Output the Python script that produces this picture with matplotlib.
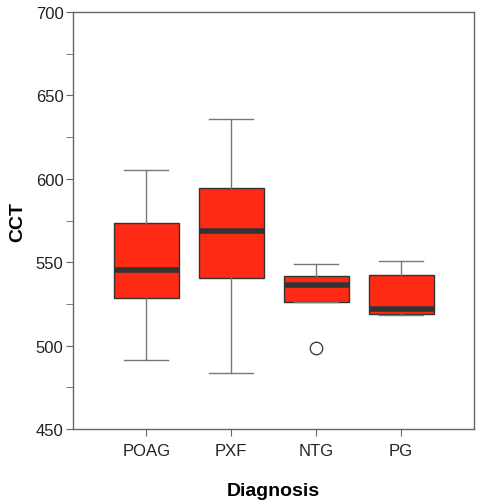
import matplotlib
matplotlib.use("Agg")
import matplotlib.pyplot as plt
from matplotlib.ticker import MultipleLocator

plt.rcParams['font.family'] = ['Liberation Sans', 'DejaVu Sans']

groups = ["POAG", "PXF", "NTG", "PG"]
whislo = [491.4, 483.6, 526.1, 518.6]
q1 = [528.5, 540.5, 526.1, 518.9]
med = [545.3, 568.7, 536.3, 522.0]
q3 = [573.5, 594.5, 541.7, 542.3]
whishi = [605.3, 635.9, 549.0, 550.7]
fliers = [[], [], [498.6], []]

stats = []
for i, g in enumerate(groups):
    stats.append(dict(label=g, whislo=whislo[i], q1=q1[i], med=med[i],
                      q3=q3[i], whishi=whishi[i], fliers=fliers[i]))

fig = plt.figure(figsize=(4.78, 5.02), dpi=100)
ax = fig.add_axes([0.153, 0.143, 0.839, 0.831])

ax.bxp(stats, positions=[1, 2, 3, 4], widths=0.765, patch_artist=True,
       boxprops=dict(facecolor="#ff2a14", edgecolor="#333333", linewidth=1),
       medianprops=dict(color="#333333", linewidth=4, solid_capstyle="butt"),
       whiskerprops=dict(color="#777777", linewidth=1),
       capprops=dict(color="#777777", linewidth=1),
       capwidths=0.52,
       flierprops=dict(marker="o", markersize=9, markerfacecolor="white",
                       markeredgecolor="#333333", markeredgewidth=0.9))

ax.set_xlim(0.14, 4.86)
ax.set_ylim(450, 700)
ax.yaxis.set_major_locator(MultipleLocator(50))
ax.yaxis.set_minor_locator(MultipleLocator(25))
ax.tick_params(axis="both", which="both", direction="out", color="#666666",
               length=5, labelsize=12, labelcolor="#222222")
ax.tick_params(axis="x", pad=5)
ax.tick_params(axis="y", pad=2)
for s in ax.spines.values():
    s.set_color("#666666")
    s.set_linewidth(1)

ax.set_ylabel("CCT", fontsize=14, fontweight="bold", labelpad=7)
ax.set_xlabel("Diagnosis", fontsize=14, fontweight="bold", labelpad=17)

fig.savefig("out.png", dpi=100)
